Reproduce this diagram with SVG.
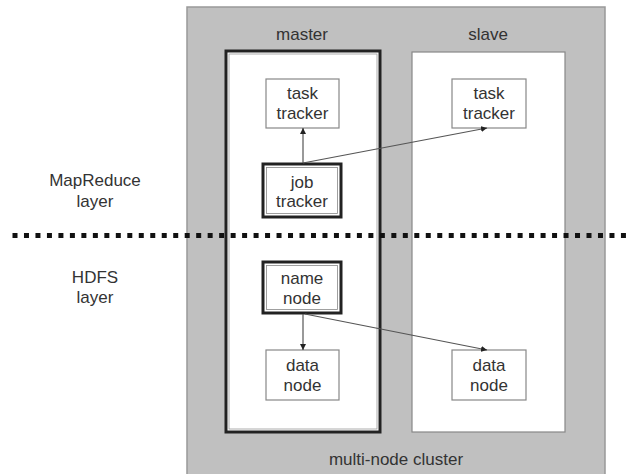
<svg xmlns="http://www.w3.org/2000/svg" width="629" height="474" viewBox="0 0 629 474">
<style>
text{font-family:"Liberation Sans",Arial,sans-serif;font-size:17px;fill:#333;text-anchor:middle}
.box{fill:#fff;stroke:#888;stroke-width:1.2}
.conn{stroke:#555;stroke-width:1.2;fill:none}
</style>
<defs>
<marker id="ah" viewBox="0 0 8 8" refX="8" refY="4" markerWidth="6" markerHeight="6" orient="auto" markerUnits="userSpaceOnUse">
<path d="M0,0 L8,4 L0,8 z" fill="#222"/>
</marker>
</defs>
<rect width="629" height="474" fill="#fff"/>
<g id="cluster">
<rect x="187" y="7" width="418" height="470" fill="#c0c0c0" stroke="#999" stroke-width="1.5"/>
<text x="396" y="465">multi-node cluster</text>
</g>
<g id="master">
<rect x="226" y="51" width="154" height="381" fill="#fff" stroke="#222" stroke-width="3"/>
<rect x="229" y="54" width="148" height="375" fill="none" stroke="#999" stroke-width="0.8"/>
<text x="302" y="40">master</text>
</g>
<g id="slave">
<rect x="412" y="52" width="153" height="380" class="box"/>
<text x="488" y="40">slave</text>
</g>
<g id="layers">
<text x="95" y="186">MapReduce</text>
<text x="95" y="207">layer</text>
<text x="95" y="283">HDFS</text>
<text x="95" y="303">layer</text>
<line x1="12.5" y1="235.5" x2="629" y2="235.5" stroke="#111" stroke-width="5" stroke-dasharray="5 6.48"/>
</g>
<g id="master-task-tracker">
<rect x="266" y="79" width="73" height="49" class="box"/>
<text x="302.5" y="99">task</text>
<text x="302.5" y="119">tracker</text>
</g>
<g id="slave-task-tracker">
<rect x="452" y="79" width="74" height="49" class="box"/>
<text x="489" y="99">task</text>
<text x="489" y="119">tracker</text>
</g>
<g id="job-tracker">
<rect x="263" y="164" width="78" height="53" fill="#fff" stroke="#222" stroke-width="3"/>
<rect x="266.5" y="167.5" width="71" height="46" fill="none" stroke="#888" stroke-width="0.8"/>
<text x="302" y="188">job</text>
<text x="302" y="207">tracker</text>
</g>
<g id="name-node">
<rect x="263" y="262" width="78" height="51" fill="#fff" stroke="#222" stroke-width="3"/>
<rect x="266.5" y="265.5" width="71" height="44" fill="none" stroke="#888" stroke-width="0.8"/>
<text x="302" y="284">name</text>
<text x="302" y="304">node</text>
</g>
<g id="master-data-node">
<rect x="266" y="350" width="73" height="50" class="box"/>
<text x="302.5" y="371">data</text>
<text x="302.5" y="391">node</text>
</g>
<g id="slave-data-node">
<rect x="452" y="350" width="74" height="50" class="box"/>
<text x="489" y="371">data</text>
<text x="489" y="391">node</text>
</g>
<g id="connectors">
<line x1="303" y1="163" x2="303" y2="128" class="conn" marker-end="url(#ah)"/>
<line x1="303" y1="163" x2="487" y2="128" class="conn" marker-end="url(#ah)"/>
<line x1="303" y1="314" x2="303" y2="350" class="conn" marker-end="url(#ah)"/>
<line x1="305" y1="314" x2="487" y2="350" class="conn" marker-end="url(#ah)"/>
</g>
</svg>
